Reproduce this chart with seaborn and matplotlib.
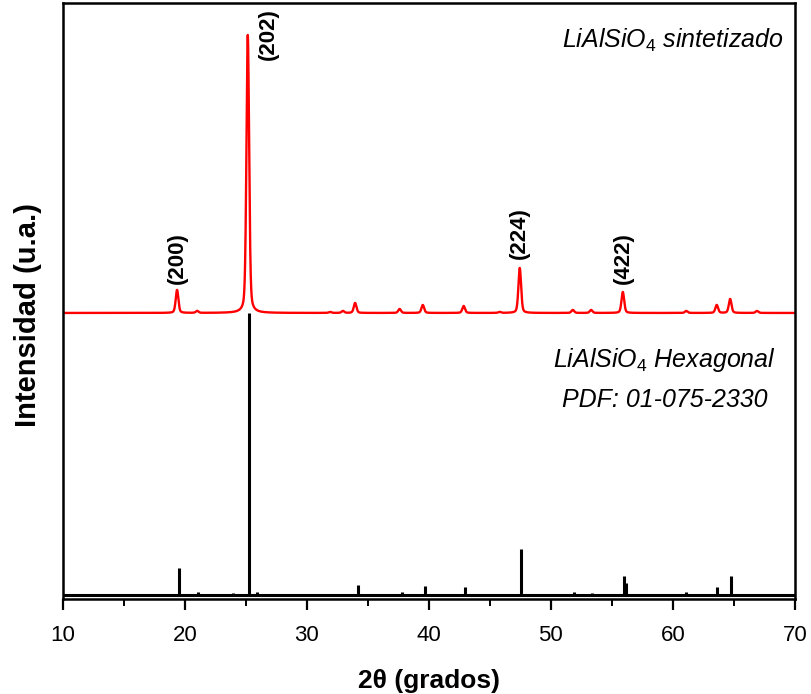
import numpy as np
import pandas as pd
import matplotlib
matplotlib.use("Agg")
import matplotlib.pyplot as plt
from matplotlib.ticker import MultipleLocator, NullLocator
import seaborn as sns

# ── Datos ─────────────────────────────────────────────────────────────────
# Picos del patrón sintetizado (2θ, intensidad relativa sobre la línea base)
pk_pos = [19.35, 21.0, 25.15, 31.9, 32.95, 33.95, 37.6, 39.5, 42.85, 45.8,
          47.45, 51.8, 53.3, 55.9, 61.1, 63.6, 64.7, 66.9]
pk_int = [23, 2, 278, 1, 2, 10, 4, 8, 7, 1,
          45, 3, 3, 21, 2, 8, 14, 2]
RED_OFFSET = 282

# Patrón de referencia PDF 01-075-2330 (barras)
ref_pos = [19.5, 21.1, 23.9, 25.25, 25.9, 29.4, 34.2, 37.8, 39.65, 43.0,
           47.55, 51.9, 53.4, 56.0, 56.2, 61.1, 63.6, 64.75]
ref_int = [27, 3, 2, 282, 3, 1, 10, 3, 9, 8,
           46, 3, 2, 19, 12, 3, 8, 19]

hkl_labels = ["(200)", "(202)", "(224)", "(422)"]
hkl_pos    = [19.4, 26.8, 47.45, 55.95]
hkl_y      = [311, 535, 336, 311]

xticks = [10, 20, 30, 40, 50, 60, 70]

# ── Perfil (pseudo-Voigt por pico) ───────────────────────────────────────
two_theta = np.linspace(10, 70, 6001)
fwhm, eta = 0.26, 0.35
prof = np.zeros_like(two_theta)
for p, h in zip(pk_pos, pk_int):
    d = two_theta - p
    g = np.exp(-4 * np.log(2) * d**2 / fwhm**2)
    l = 1 / (1 + 4 * d**2 / fwhm**2)
    prof += h * (eta * l + (1 - eta) * g)
df = pd.DataFrame({"2theta": two_theta, "I": prof + RED_OFFSET})

sns.set_theme(style="ticks")
plt.rcParams["font.family"] = ["Liberation Sans", "DejaVu Sans"]
plt.rcParams["mathtext.fontset"] = "custom"
plt.rcParams["mathtext.it"] = "Liberation Sans:italic"
plt.rcParams["mathtext.rm"] = "Liberation Sans"
plt.rcParams["text.color"] = "black"
plt.rcParams["axes.labelcolor"] = "black"
plt.rcParams["xtick.color"] = "black"
plt.rcParams["ytick.color"] = "black"

fig = plt.figure(figsize=(8.11, 6.94), dpi=100)
ax = fig.add_axes([0.0777, 0.137, 0.9023, 0.8587])

sns.lineplot(data=df, x="2theta", y="I", color="#FF0000", lw=1.7, ax=ax)
ax.vlines(ref_pos, 0, ref_int, color="black", lw=2.2)
ax.axhline(0, color="black", lw=2.2)

for lab, x, y in zip(hkl_labels, hkl_pos, hkl_y):
    ax.text(x, y, lab, rotation=90, ha="center", va="bottom",
            fontsize=16, fontweight="bold")

ax.text(0.985, 0.938, r"$\mathit{LiAlSiO_4}$ sintetizado", transform=ax.transAxes,
        ha="right", va="center", fontsize=18, style="italic")
ax.text(0.822, 0.401, r"$\mathit{LiAlSiO_4}$ Hexagonal", transform=ax.transAxes,
        ha="center", va="center", fontsize=18, style="italic")
ax.text(0.822, 0.334, "PDF: 01-075-2330", transform=ax.transAxes,
        ha="center", va="center", fontsize=18, style="italic")

ax.set_xlim(10, 70)
ax.set_ylim(-4, 592)
ax.set_xticks(xticks)
ax.xaxis.set_minor_locator(MultipleLocator(5))
ax.yaxis.set_major_locator(NullLocator())
ax.tick_params(axis="x", which="major", direction="out", length=8, width=1.6,
               labelsize=16, pad=11, top=False)
ax.tick_params(axis="x", which="minor", direction="out", length=5, width=1.4, top=False)
for s in ax.spines.values():
    s.set_linewidth(1.8)
    s.set_color("black")

ax.set_xlabel("2θ (grados)", fontsize=19, fontweight="bold", labelpad=16)
ax.set_ylabel("Intensidad (u.a.)", fontsize=21, fontweight="bold")
ax.yaxis.set_label_coords(-0.029, 0.477)

plt.savefig("out.png", dpi=100)
plt.close()
